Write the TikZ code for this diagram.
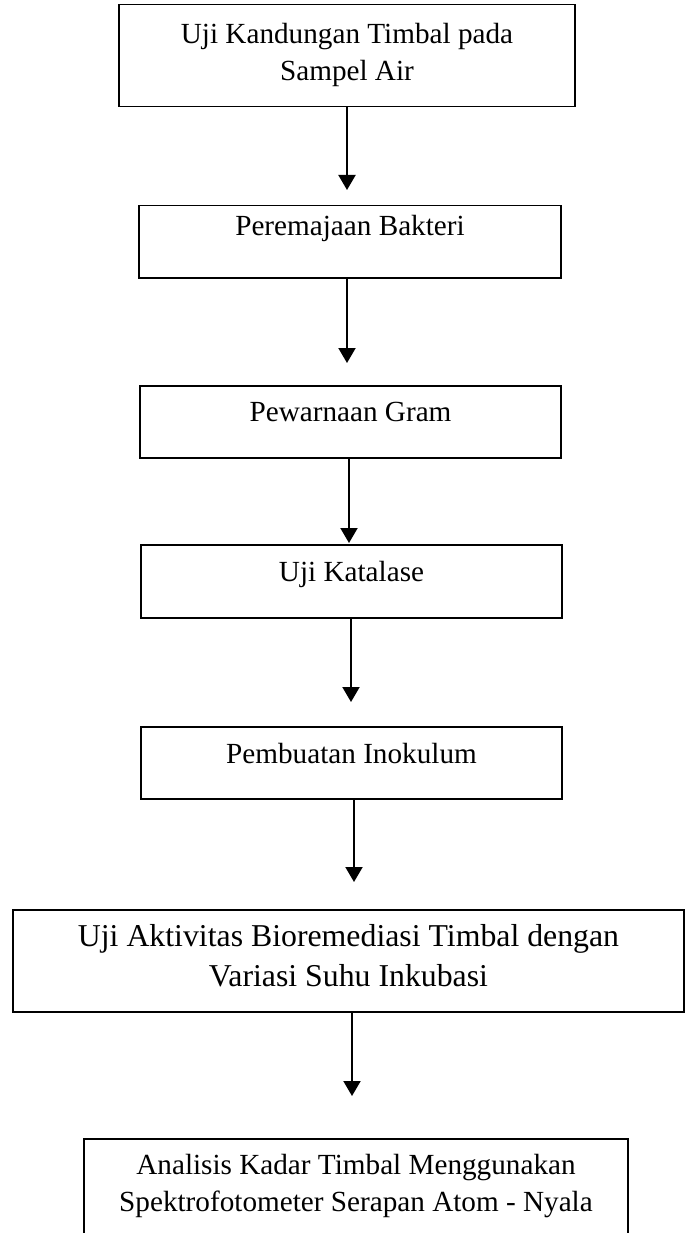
\documentclass[tikz,border=0pt]{standalone}
\usepackage{fontspec}
\setmainfont{Liberation Serif}
\usetikzlibrary{arrows.meta}

\begin{document}
\begin{tikzpicture}[x=1pt, y=1pt,
    stepbox/.style={draw, line width=1.5pt, inner sep=0pt, align=center, anchor=north,
        font=\fontsize{29.2pt}{37pt}\selectfont},
    flow/.style={-{Triangle[width=17pt,length=15pt]}, line width=2pt}]
    \useasboundingbox (0,0) rectangle (686,-1233);

    % Steps of the procedure
    \node[stepbox, minimum width=456pt, text height=76pt, text depth=26pt] (kandungan) at (347,-4)
        {Uji Kandungan Timbal pada\\Sampel Air};
    \node[stepbox, minimum width=422pt, text height=30pt, text depth=42pt] (peremajaan) at (350,-205)
        {Peremajaan Bakteri};
    \node[stepbox, minimum width=421pt, text height=36pt, text depth=36pt] (gram) at (350.5,-385)
        {Pewarnaan Gram};
    \node[stepbox, minimum width=421pt, text height=37pt, text depth=36pt] (katalase) at (351.5,-544)
        {Uji Katalase};
    \node[stepbox, minimum width=421pt, text height=37pt, text depth=35pt] (inokulum) at (351.5,-726)
        {Pembuatan Inokulum};
    \node[stepbox, minimum width=671pt, text height=77pt, text depth=25pt,
        font=\fontsize{31.8pt}{40pt}\selectfont] (bioremediasi) at (348.5,-909)
        {Uji Aktivitas Bioremediasi Timbal dengan\\Variasi Suhu Inkubasi};
    % last box runs off the bottom of the page
    \node[stepbox, minimum width=544pt, text height=73pt, text depth=40pt] (analisis) at (356,-1138)
        {Analisis Kadar Timbal Menggunakan\\Spektrofotometer Serapan Atom - Nyala};

    % Arrows between the steps
    \draw[flow, shorten >=15pt] (kandungan.south) -- (kandungan.south |- peremajaan.north);
    \draw[flow, shorten >=22pt] ([xshift=-3pt]peremajaan.south) -- ([xshift=-3pt]peremajaan.south |- gram.north);
    \draw[flow, shorten >=1pt] ([xshift=-1.5pt]gram.south) -- ([xshift=-1.5pt]gram.south |- katalase.north);
    \draw[flow, shorten >=24pt] ([xshift=-0.5pt]katalase.south) -- ([xshift=-0.5pt]katalase.south |- inokulum.north);
    \draw[flow, shorten >=27pt] ([xshift=2.5pt]inokulum.south) -- ([xshift=2.5pt]inokulum.south |- bioremediasi.north);
    \draw[flow, shorten >=42pt] ([xshift=3.5pt]bioremediasi.south) -- ([xshift=3.5pt]bioremediasi.south |- analisis.north);
\end{tikzpicture}
\end{document}
